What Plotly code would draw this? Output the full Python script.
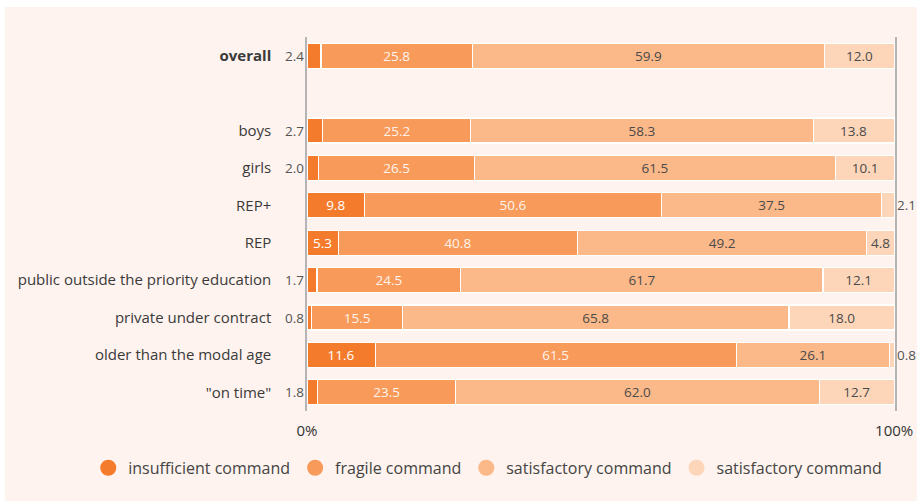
import plotly.graph_objects as go

categories = ["overall", "boys", "girls", "REP+", "REP",
              "public outside the priority education", "private under contract",
              "older than the modal age", "\"on time\""]
insufficient = [2.4, 2.7, 2.0, 9.8, 5.3, 1.7, 0.8, 11.6, 1.8]
fragile = [25.8, 25.2, 26.5, 50.6, 40.8, 24.5, 15.5, 61.5, 23.5]
satisfactory = [59.9, 58.3, 61.5, 37.5, 49.2, 61.7, 65.8, 26.1, 62.0]
very_satisfactory = [12.0, 13.8, 10.1, 2.1, 4.8, 12.1, 18.0, 0.8, 12.7]
series_names = ["insufficient command", "fragile command",
                "satisfactory command", "satisfactory command"]
tick_vals_x = [0, 100]
tick_text_x = ["0%", "100%"]

colors = ["#f47b2b", "#f89a5a", "#fbb888", "#fdd6b9"]
text_colors = ["#ffffff", "#fff4ec", "#4a4a4a", "#4a4a4a"]
bg = "#fef3ee"
FONT = "Open Sans"

# positions: overall, then an empty slot, then the rest
positions = [0] + [i + 1 for i in range(1, len(categories))]
ticktext = ["<b>overall</b>"] + categories[1:]

fig = go.Figure()
series = [insufficient, fragile, satisfactory, very_satisfactory]
THRESH = 4.0
for k, vals in enumerate(series):
    txt = [f"{v:.1f}" if v >= THRESH else "" for v in vals]
    fig.add_trace(go.Bar(
        x=vals, y=positions, orientation="h",
        marker=dict(color=colors[k], line=dict(color="white", width=1.2)),
        text=txt, textposition="inside", insidetextanchor="middle",
        textfont=dict(family=FONT, size=13.5, color=text_colors[k]),
        showlegend=False, hoverinfo="x+name", name=series_names[k],
        cliponaxis=False,
    ))

# outside labels for small values
for i, v in enumerate(insufficient):
    if v < THRESH:
        fig.add_annotation(x=0, y=positions[i], text=f"{v:.1f}", showarrow=False,
                           xanchor="right", xshift=-1,
                           font=dict(family=FONT, size=13.5, color="#555555"))
for i, v in enumerate(very_satisfactory):
    if v < THRESH:
        fig.add_annotation(x=100, y=positions[i], text=f"{v:.1f}", showarrow=False,
                           xanchor="left", xshift=1,
                           font=dict(family=FONT, size=13.5, color="#555555"))

# legend entries with circular markers
for k, name in enumerate(series_names):
    fig.add_trace(go.Scatter(
        x=[None], y=[None], mode="markers", name=name,
        marker=dict(symbol="circle", size=16, color=colors[k]),
        showlegend=True,
    ))

fig.update_layout(
    barmode="stack", bargap=0.33,
    width=912, height=494,
    margin=dict(l=302, r=22, t=30, b=90, autoexpand=False),
    paper_bgcolor=bg, plot_bgcolor=bg,
    font=dict(family=FONT, size=15, color="#3a3a3a"),
    xaxis=dict(range=[0, 100.15], tickvals=tick_vals_x, ticktext=tick_text_x,
               showgrid=False, zeroline=False, showline=False, automargin=False,
               tickfont=dict(size=15, color="#333333"), ticks="",
               ticklabelstandoff=9),
    yaxis=dict(range=[9.5, -0.5], tickvals=positions, ticktext=ticktext,
               showgrid=False, zeroline=False, showline=True, mirror=True,
               automargin=False,
               linecolor="#b4b4b4", linewidth=1.5, ticks="",
               ticklabelstandoff=31,
               tickfont=dict(size=15, color="#3a3a3a")),
    legend=dict(orientation="h", x=-0.372, xanchor="left",
                y=-0.152, yanchor="middle", traceorder="normal",
                font=dict(size=16, color="#444444"), bgcolor="rgba(0,0,0,0)",
                itemwidth=30),
    showlegend=True,
)

fig.write_html(
    "out.html",
    post_script=("document.body.style.margin='7px 0 0 5px';"
                 "document.body.style.overflow='hidden';"
                 "document.documentElement.style.overflow='hidden';"),
)
